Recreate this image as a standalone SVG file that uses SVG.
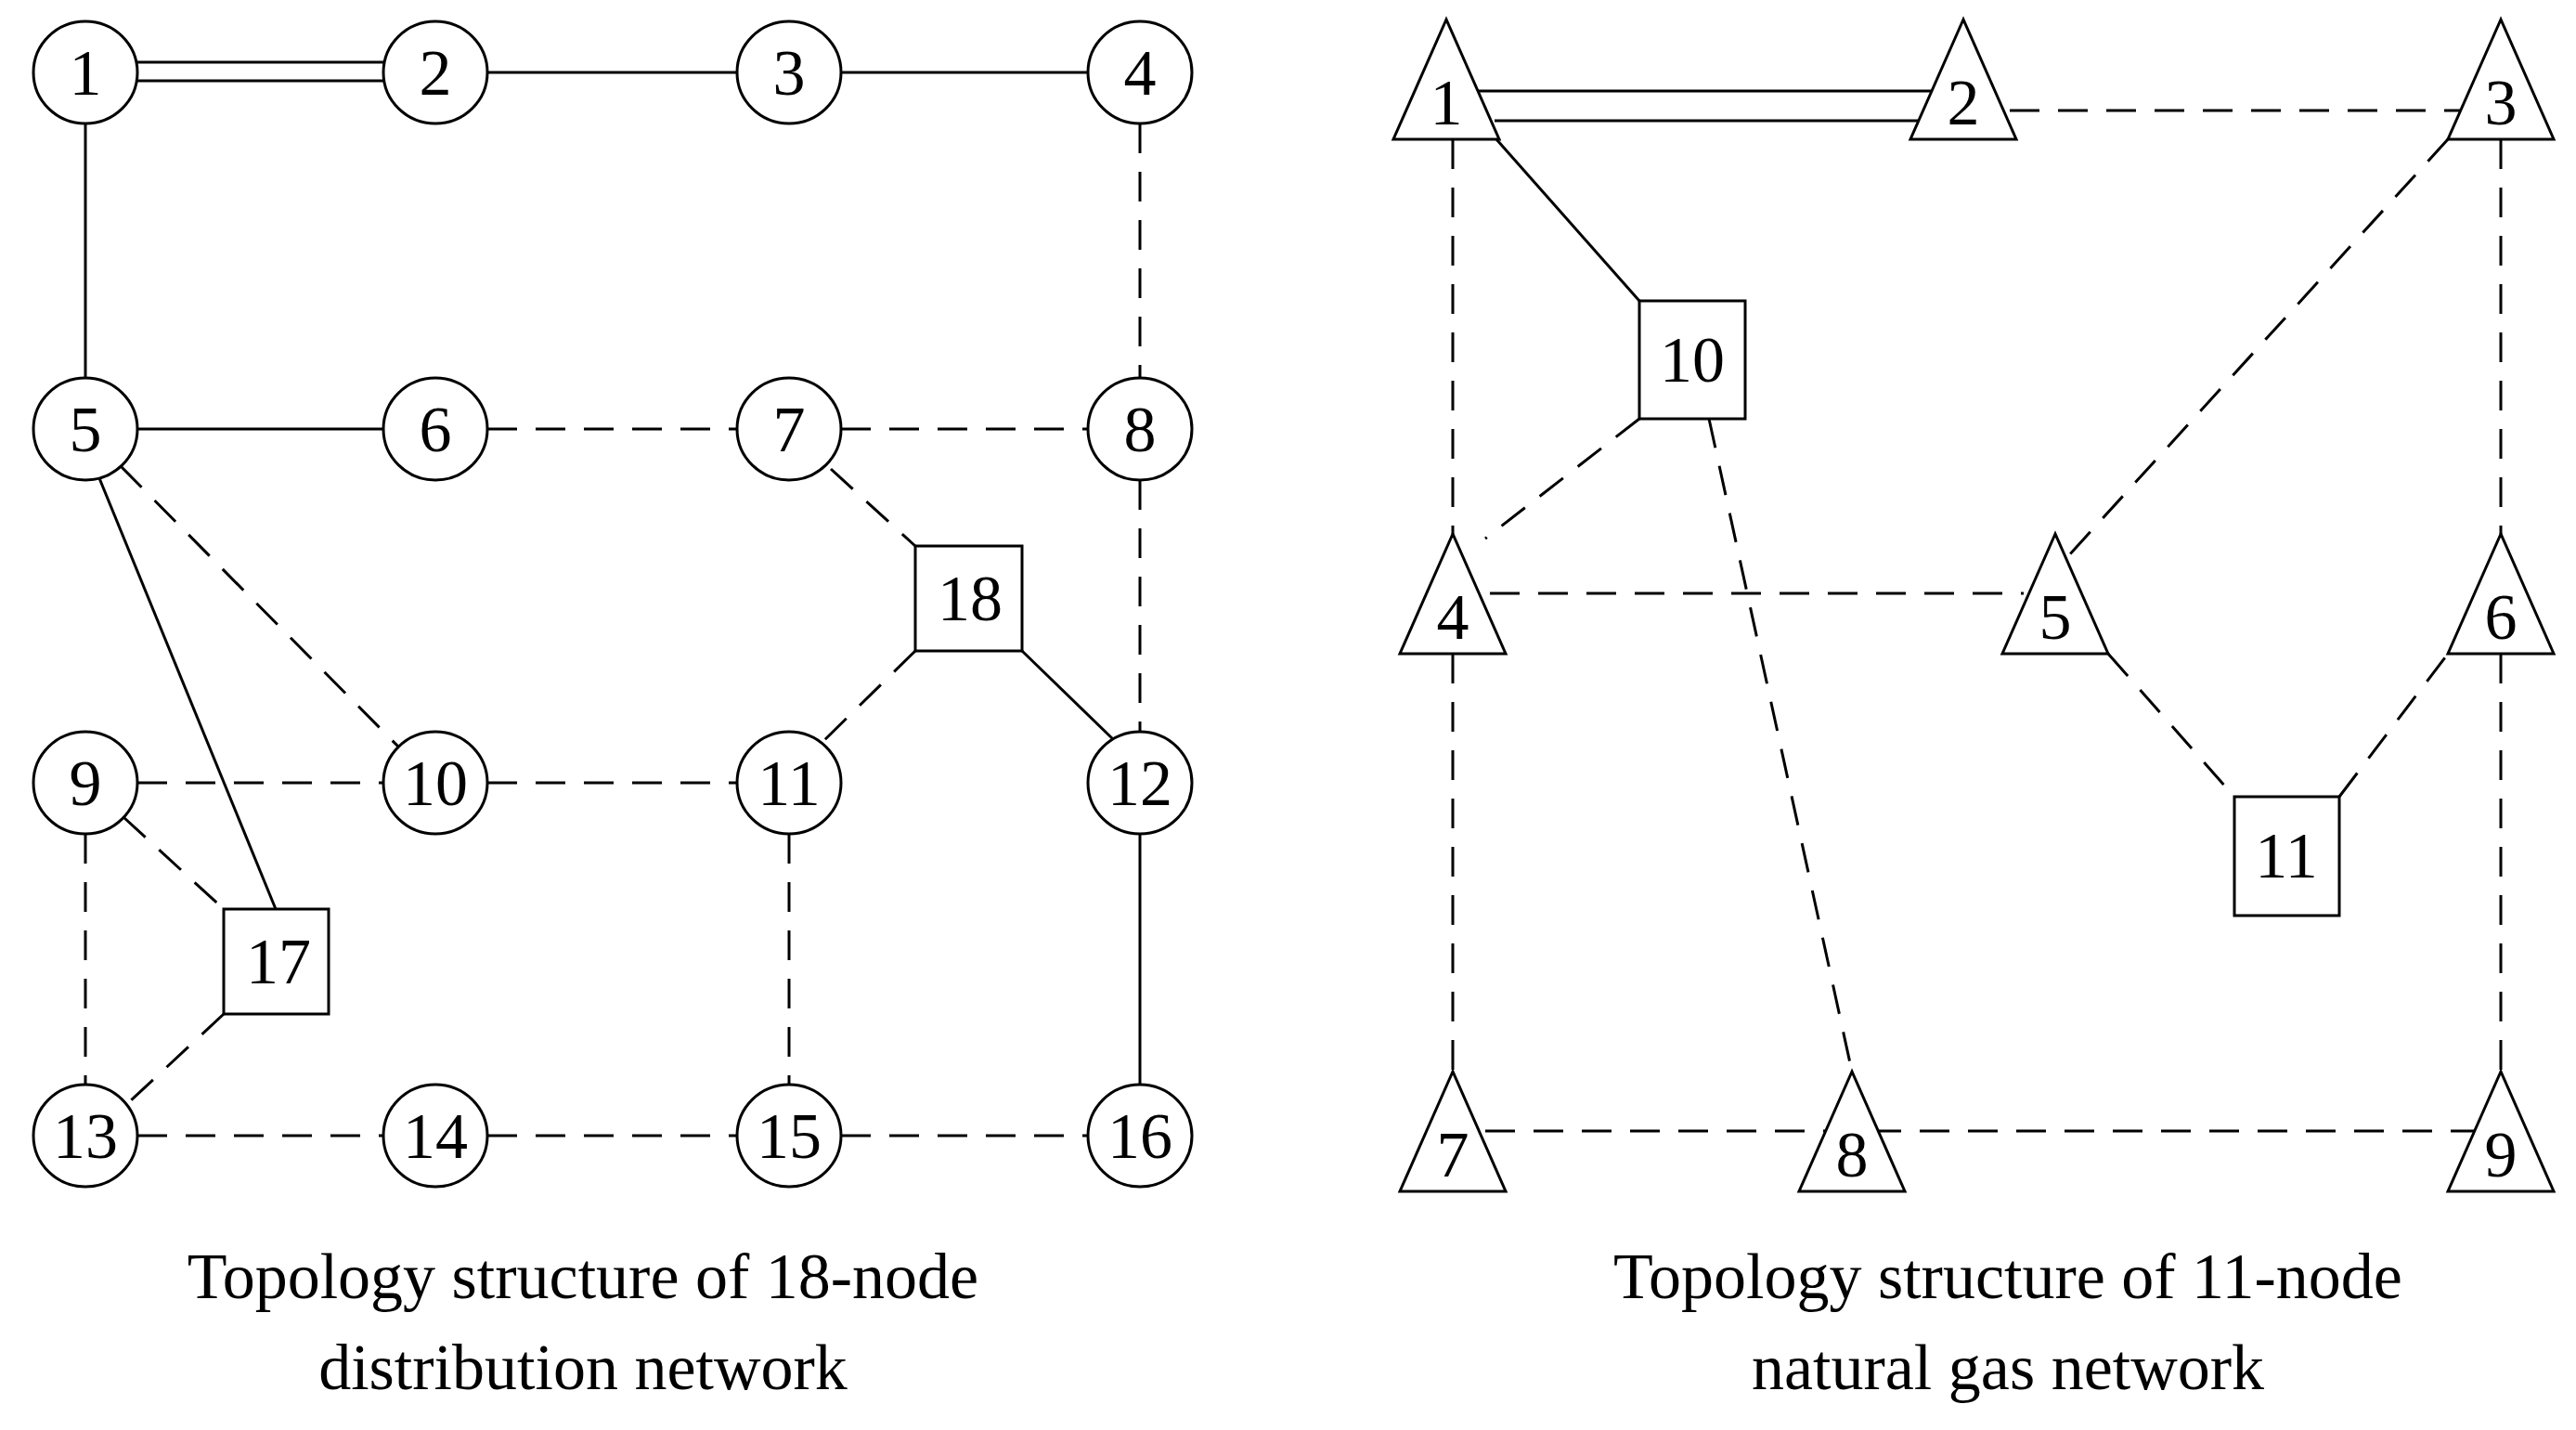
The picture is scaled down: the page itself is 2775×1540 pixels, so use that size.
<svg xmlns="http://www.w3.org/2000/svg" width="2775" height="1540" viewBox="0 0 2775 1540">
<style>
.n{fill:#fff;stroke:#000;stroke-width:3}
.t{font-family:"Liberation Serif",serif;font-size:70px;text-anchor:middle;fill:#000}
.c{font-family:"Liberation Serif",serif;font-size:70px;text-anchor:middle;fill:#000}
.s{stroke:#000;stroke-width:3;fill:none}
.d{stroke:#000;stroke-width:3;fill:none;stroke-dasharray:32 20}
</style>
<rect width="2775" height="1540" fill="#fff"/>
<g id="connectors">
<line class="s" x1="140" y1="67" x2="420" y2="67"/><line class="s" x1="140" y1="87" x2="420" y2="87"/>
<line class="s" x1="525" y1="78" x2="794" y2="78"/>
<line class="s" x1="906" y1="78" x2="1172" y2="78"/>
<line class="s" x1="92" y1="133" x2="92" y2="407"/>
<line class="d" x1="1228" y1="133" x2="1228" y2="407"/>
<line class="s" x1="148" y1="462" x2="413" y2="462"/>
<line class="d" x1="525" y1="462" x2="794" y2="462"/>
<line class="d" x1="906" y1="462" x2="1172" y2="462"/>
<line class="d" x1="130" y1="502" x2="430" y2="805"/>
<line class="s" x1="107" y1="515" x2="297" y2="979"/>
<line class="d" x1="895" y1="505" x2="986" y2="588"/>
<line class="d" x1="986" y1="701" x2="885" y2="800"/>
<line class="s" x1="1101" y1="701" x2="1200" y2="797"/>
<line class="d" x1="1228" y1="517" x2="1228" y2="788"/>
<line class="d" x1="148" y1="843" x2="413" y2="843"/>
<line class="d" x1="525" y1="843" x2="794" y2="843"/>
<line class="d" x1="133" y1="880" x2="241" y2="979"/>
<line class="d" x1="92" y1="898" x2="92" y2="1168"/>
<line class="d" x1="241" y1="1092" x2="140" y2="1186"/>
<line class="d" x1="850" y1="898" x2="850" y2="1168"/>
<line class="s" x1="1228" y1="898" x2="1228" y2="1168"/>
<line class="d" x1="148" y1="1223" x2="413" y2="1223"/>
<line class="d" x1="525" y1="1223" x2="794" y2="1223"/>
<line class="d" x1="906" y1="1223" x2="1172" y2="1223"/>
<line class="s" x1="1593" y1="98" x2="2088" y2="98"/><line class="s" x1="1610" y1="130" x2="2080" y2="130"/>
<line class="d" x1="2165" y1="119" x2="2680" y2="119"/>
<line class="d" x1="1565" y1="150" x2="1565" y2="575"/>
<line class="s" x1="1612" y1="150" x2="1766" y2="324"/>
<line class="d" x1="1766" y1="451" x2="1600" y2="580"/>
<line class="d" x1="1841" y1="451" x2="1995" y2="1154"/>
<line class="d" x1="2637" y1="150" x2="2227" y2="600"/>
<line class="d" x1="2694" y1="150" x2="2694" y2="575"/>
<line class="d" x1="1605" y1="639" x2="2180" y2="639"/>
<line class="d" x1="2271" y1="704" x2="2407" y2="858"/>
<line class="d" x1="2520" y1="858" x2="2637" y2="704"/>
<line class="d" x1="2694" y1="704" x2="2694" y2="1154"/>
<line class="d" x1="1565" y1="704" x2="1565" y2="1154"/>
<line class="d" x1="1600" y1="1218" x2="2670" y2="1218"/>
</g>
<g id="e1"><ellipse class="n" cx="92" cy="78" rx="56" ry="55"/><text class="t" x="92" y="102">1</text></g>
<g id="e2"><ellipse class="n" cx="469" cy="78" rx="56" ry="55"/><text class="t" x="469" y="102">2</text></g>
<g id="e3"><ellipse class="n" cx="850" cy="78" rx="56" ry="55"/><text class="t" x="850" y="102">3</text></g>
<g id="e4"><ellipse class="n" cx="1228" cy="78" rx="56" ry="55"/><text class="t" x="1228" y="102">4</text></g>
<g id="e5"><ellipse class="n" cx="92" cy="462" rx="56" ry="55"/><text class="t" x="92" y="486">5</text></g>
<g id="e6"><ellipse class="n" cx="469" cy="462" rx="56" ry="55"/><text class="t" x="469" y="486">6</text></g>
<g id="e7"><ellipse class="n" cx="850" cy="462" rx="56" ry="55"/><text class="t" x="850" y="486">7</text></g>
<g id="e8"><ellipse class="n" cx="1228" cy="462" rx="56" ry="55"/><text class="t" x="1228" y="486">8</text></g>
<g id="e9"><ellipse class="n" cx="92" cy="843" rx="56" ry="55"/><text class="t" x="92" y="867">9</text></g>
<g id="e10"><ellipse class="n" cx="469" cy="843" rx="56" ry="55"/><text class="t" x="469" y="867">10</text></g>
<g id="e11"><ellipse class="n" cx="850" cy="843" rx="56" ry="55"/><text class="t" x="850" y="867">11</text></g>
<g id="e12"><ellipse class="n" cx="1228" cy="843" rx="56" ry="55"/><text class="t" x="1228" y="867">12</text></g>
<g id="e13"><ellipse class="n" cx="92" cy="1223" rx="56" ry="55"/><text class="t" x="92" y="1247">13</text></g>
<g id="e14"><ellipse class="n" cx="469" cy="1223" rx="56" ry="55"/><text class="t" x="469" y="1247">14</text></g>
<g id="e15"><ellipse class="n" cx="850" cy="1223" rx="56" ry="55"/><text class="t" x="850" y="1247">15</text></g>
<g id="e16"><ellipse class="n" cx="1228" cy="1223" rx="56" ry="55"/><text class="t" x="1228" y="1247">16</text></g>
<g id="e17"><rect class="n" x="241" y="979" width="113" height="113"/><text class="t" x="300" y="1059">17</text></g>
<g id="e18"><rect class="n" x="986" y="588" width="115" height="113"/><text class="t" x="1045" y="668">18</text></g>
<g id="g1"><polygon class="n" points="1558,21 1501,150 1615,150"/><text class="t" x="1558" y="134">1</text></g>
<g id="g2"><polygon class="n" points="2115,21 2058,150 2172,150"/><text class="t" x="2115" y="134">2</text></g>
<g id="g3"><polygon class="n" points="2694,21 2637,150 2751,150"/><text class="t" x="2694" y="134">3</text></g>
<g id="g4"><polygon class="n" points="1565,575 1508,704 1622,704"/><text class="t" x="1565" y="688">4</text></g>
<g id="g5"><polygon class="n" points="2214,575 2157,704 2271,704"/><text class="t" x="2214" y="688">5</text></g>
<g id="g6"><polygon class="n" points="2694,575 2637,704 2751,704"/><text class="t" x="2694" y="688">6</text></g>
<g id="g7"><polygon class="n" points="1565,1154 1508,1283 1622,1283"/><text class="t" x="1565" y="1267">7</text></g>
<g id="g8"><polygon class="n" points="1995,1154 1938,1283 2052,1283"/><text class="t" x="1995" y="1267">8</text></g>
<g id="g9"><polygon class="n" points="2694,1154 2637,1283 2751,1283"/><text class="t" x="2694" y="1267">9</text></g>
<g id="g10"><rect class="n" x="1766" y="324" width="114" height="127"/><text class="t" x="1823" y="411">10</text></g>
<g id="g11"><rect class="n" x="2407" y="858" width="113" height="128"/><text class="t" x="2463" y="945">11</text></g>
<g id="captions">
<text class="c" x="628" y="1398">Topology structure of 18-node</text>
<text class="c" x="628" y="1496">distribution network</text>
<text class="c" x="2163" y="1398">Topology structure of 11-node</text>
<text class="c" x="2163" y="1496">natural gas network</text>
</g>
</svg>
